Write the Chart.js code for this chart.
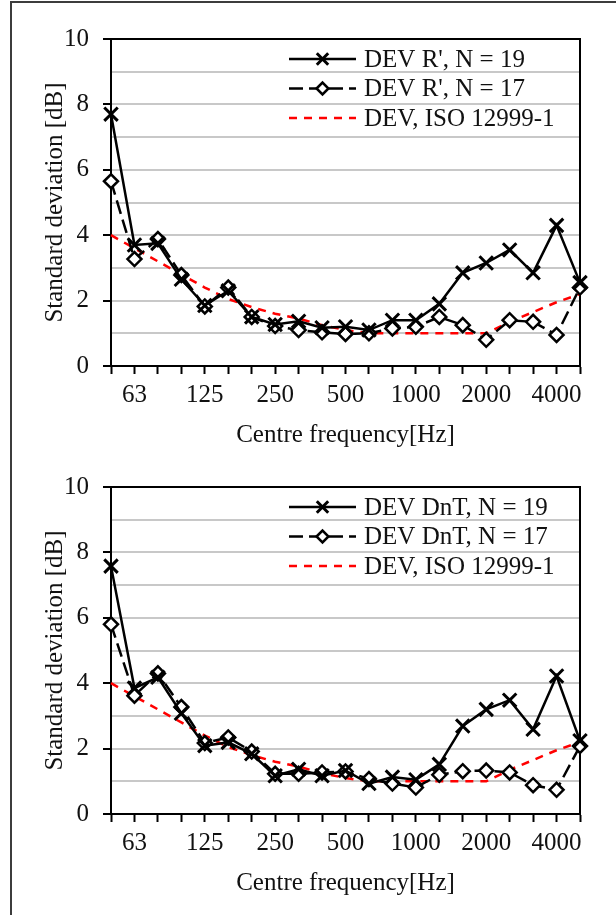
<!DOCTYPE html>
<html>
<head>
<meta charset="utf-8">
<title>Standard deviation per centre frequency</title>
<script src="https://cdn.jsdelivr.net/npm/chart.js@4.4.0/dist/chart.umd.min.js"></script>
<style>
  body { margin: 0; background: #fff; }
  #frame { position: absolute; left: 10px; top: 1px; width: 800px; height: 1000px;
           border-left: 2px solid #3c3c3c; border-top: 2px solid #3c3c3c; }
  .panel { position: absolute; left: 0; }
</style>
</head>
<body>
<div id="frame"></div>
<canvas id="chartR" class="panel" width="616" height="460" style="top:0"></canvas>
<canvas id="chartD" class="panel" width="616" height="460" style="top:448px"></canvas>

<script>
// one-third octave centre frequencies (Hz)
const freqs = ['50','63','80','100','125','160','200','250','315','400','500',
               '630','800','1000','1250','1600','2000','2500','3150','4000','5000'];
const shownFreqs = ['63','125','250','500','1000','2000','4000'];

// top panel: R'
const rN19 = [7.7, 3.7, 3.75, 2.65, 1.85, 2.3, 1.5, 1.27, 1.37, 1.17, 1.2,
              1.1, 1.4, 1.4, 1.9, 2.85, 3.15, 3.55, 2.85, 4.3, 2.55];
const rN17 = [5.65, 3.27, 3.88, 2.78, 1.82, 2.4, 1.5, 1.22, 1.1, 1.03, 0.98,
              1.0, 1.15, 1.2, 1.5, 1.25, 0.8, 1.4, 1.35, 0.95, 2.4];

// bottom panel: DnT
const dntN19 = [7.58, 3.85, 4.18, 3.08, 2.09, 2.19, 1.84, 1.17, 1.37, 1.17, 1.33,
                0.93, 1.13, 1.05, 1.52, 2.69, 3.2, 3.48, 2.59, 4.22, 2.24];
const dntN17 = [5.8, 3.62, 4.3, 3.27, 2.17, 2.34, 1.91, 1.23, 1.23, 1.27, 1.3,
                1.07, 0.93, 0.81, 1.2, 1.31, 1.33, 1.27, 0.88, 0.74, 2.08];

// ISO 12999-1 reference deviation
const isoDev = [4.0, 3.6, 3.2, 2.8, 2.4, 2.05, 1.8, 1.6, 1.45, 1.25, 1.1,
                1.0, 1.0, 1.0, 1.0, 1.0, 1.0, 1.35, 1.65, 1.95, 2.2];

const serif = "'Liberation Serif', 'Times New Roman', serif";
Chart.defaults.font.family = serif;
Chart.defaults.font.size = 25;
Chart.defaults.color = '#111';

function drawMarker(ctx, style, x, y, r, bw) {
  if (!style) return;
  ctx.save();
  ctx.lineWidth = bw;
  ctx.strokeStyle = '#000';
  ctx.beginPath();
  if (style === 'crossRot') {
    const d = r * Math.SQRT1_2;
    ctx.moveTo(x - d, y - d); ctx.lineTo(x + d, y + d);
    ctx.moveTo(x + d, y - d); ctx.lineTo(x - d, y + d);
    ctx.stroke();
  } else if (style === 'rectRot') {
    ctx.moveTo(x - r, y); ctx.lineTo(x, y - r); ctx.lineTo(x + r, y); ctx.lineTo(x, y + r);
    ctx.closePath();
    ctx.fillStyle = '#fff';
    ctx.fill();
    ctx.stroke();
  }
  ctx.restore();
}

// legend inside the top right of the plot
const insideLegend = {
  id: 'insideLegend',
  afterDatasetsDraw(chart) {
    const {ctx, chartArea} = chart;
    const x0 = chartArea.left + 178, x1 = chartArea.left + 245;
    ctx.save();
    chart.data.datasets.forEach((ds, i) => {
      const y = chartArea.top + 20 + i * 29.5;
      ctx.setLineDash(ds.borderDash || []);
      ctx.strokeStyle = ds.borderColor;
      ctx.lineWidth = ds.borderWidth;
      ctx.beginPath(); ctx.moveTo(x0, y); ctx.lineTo(x1, y); ctx.stroke();
      ctx.setLineDash([]);
      drawMarker(ctx, ds.pointStyle, (x0 + x1) / 2, y, ds.pointRadius * 0.85, ds.pointBorderWidth);
      ctx.fillStyle = '#111';
      ctx.font = '25px ' + serif;
      ctx.textBaseline = 'middle';
      ctx.fillText(ds.label, x1 + 8, y + 1);
    });
    ctx.restore();
  }
};

// black box round the plot area
const plotFrame = {
  id: 'plotFrame',
  beforeDatasetsDraw(chart) {
    const {ctx, chartArea: a} = chart;
    ctx.save();
    ctx.strokeStyle = '#000';
    ctx.lineWidth = 2;
    ctx.strokeRect(a.left, a.top, a.right - a.left, a.bottom - a.top);
    ctx.restore();
  }
};

function makeChart(id, name, d19, d17) {
  const ctx = document.getElementById(id).getContext('2d');
  return new Chart(ctx, {
    type: 'line',
    data: {
      labels: freqs,
      datasets: [
        {
          label: 'DEV ' + name + ', N = 19',
          data: d19,
          borderColor: '#000',
          borderWidth: 2.5,
          pointStyle: 'crossRot',
          pointRadius: 9.5,
          pointBorderWidth: 3,
          pointBorderColor: '#000',
          pointBackgroundColor: '#000',
          tension: 0,
          clip: false
        },
        {
          label: 'DEV ' + name + ', N = 17',
          data: d17,
          borderColor: '#000',
          borderWidth: 2.5,
          borderDash: [14, 6],
          pointStyle: 'rectRot',
          pointRadius: 7,
          pointBorderWidth: 2.5,
          pointBorderColor: '#000',
          pointBackgroundColor: '#fff',
          tension: 0,
          clip: false
        },
        {
          label: 'DEV, ISO 12999-1',
          data: isoDev,
          borderColor: '#ff0000',
          borderWidth: 2.5,
          borderDash: [8, 7],
          pointStyle: false,
          pointRadius: 0,
          tension: 0
        }
      ]
    },
    options: {
      responsive: false,
      animation: false,
      layout: { padding: { top: 39, right: 36, left: 0, bottom: 0 } },
      plugins: { legend: { display: false }, tooltip: { enabled: false } },
      scales: {
        x: {
          type: 'category',
          offset: false,
          grid: { drawOnChartArea: false, drawTicks: true, tickLength: 8, tickColor: '#000', tickWidth: 2 },
          border: { color: '#000', width: 2 },
          ticks: {
            autoSkip: false, maxRotation: 0, minRotation: 0, padding: 6,
            callback(v) {
              const f = this.getLabelForValue(v);
              return shownFreqs.includes(f) ? f : '';
            }
          },
          title: { display: true, text: 'Centre frequency[Hz]', padding: { top: 0, bottom: 10 } },
          afterFit(s) { s.height = 94; }
        },
        y: {
          min: 0,
          max: 10,
          ticks: {
            stepSize: 1, autoSkip: false, padding: 14,
            callback: v => (v % 2 === 0 ? v : '')
          },
          grid: {
            lineWidth: 2,
            color: c => (c.tick && c.tick.value > 0 && c.tick.value < 10) ? '#c8c8c8' : 'rgba(0,0,0,0)',
            tickLength: 8,
            tickWidth: 2,
            tickColor: c => (c.tick && c.tick.value % 2 === 0) ? '#000' : 'rgba(0,0,0,0)'
          },
          border: { color: '#000', width: 2 },
          title: { display: true, text: 'Standard deviation [dB]', padding: { top: 40, bottom: 0 } },
          afterFit(s) { s.width = 111; }
        }
      }
    },
    plugins: [plotFrame, insideLegend]
  });
}

makeChart('chartR', "R'", rN19, rN17);
makeChart('chartD', 'DnT', dntN19, dntN17);
</script>
</body>
</html>
